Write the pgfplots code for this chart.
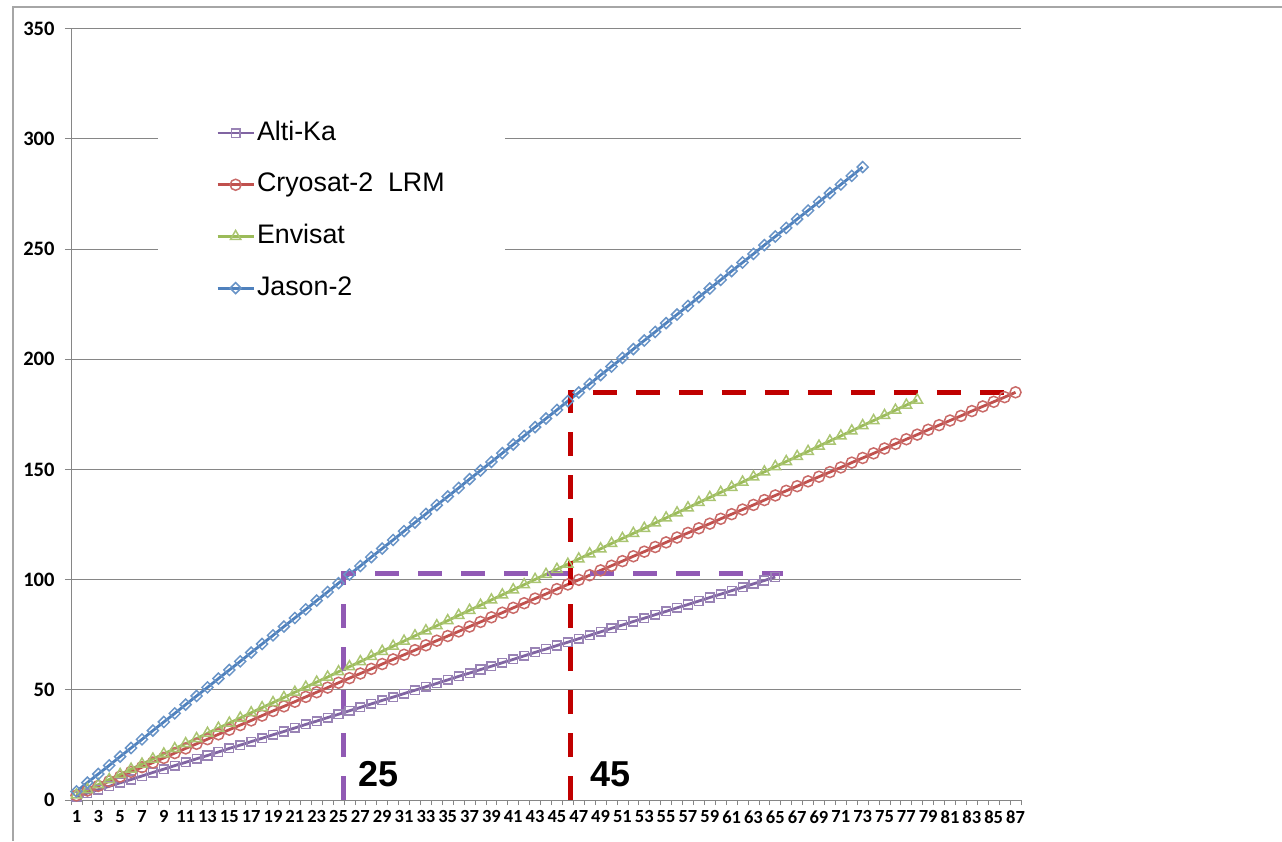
\documentclass[border=0pt]{standalone}
\usepackage{pgfplots}
\pgfplotsset{compat=1.18}
\usepackage{fontspec}
\setmainfont{Liberation Sans}
\newfontfamily\calibri{Carlito}
\definecolor{cpurple}{RGB}{128,100,162}
\definecolor{cred}{RGB}{192,80,77}
\definecolor{cgreen}{RGB}{155,187,89}
\definecolor{cblue}{RGB}{79,129,189}
\definecolor{dpurple}{RGB}{145,90,180}
\definecolor{dred}{RGB}{192,0,0}
\definecolor{gridgray}{RGB}{134,134,134}
\begin{document}
\begin{tikzpicture}[x=1pt,y=1pt]
\useasboundingbox (0,0) rectangle (1282,841);
\draw[gray!70, line width=1.5pt] (13,0) -- (13,834) -- (1282,834);
\begin{axis}[
  at={(71pt,41pt)}, anchor=south west,
  scale only axis, width=950pt, height=771.3pt,
  xmin=0.5, xmax=87.5, ymin=0, ymax=350,
  clip=false,
  xtick={1,3,...,87}, ytick={0,50,...,350},
  minor xtick={0.5,1.5,...,87.5},
  major x tick style={draw=none},
  minor tick length=5pt, major tick length=6pt,
  tick align=outside,
  axis lines*=left,
  axis line style={gridgray, line width=0.8pt},
  tick style={gridgray, line width=0.8pt},
  ymajorgrids, grid style={gridgray, line width=0.8pt},
  /pgf/number format/assume math mode=true,
  xticklabel style={font=\calibri\bfseries\fontsize{18.5}{18.5}\selectfont, yshift=-1pt},
  yticklabel style={font=\calibri\bfseries\fontsize{20.5}{20.5}\selectfont, xshift=-7pt},
  legend cell align=left,
  legend style={at={(0.1495,0.887)}, anchor=north west, draw=none, fill=none,
    font=\fontsize{26.8}{30}\selectfont, row sep=21.7pt,
    nodes={text height=20pt, text depth=6pt}},
  legend image code/.code={\draw[mark repeat=2,mark phase=2,#1] plot coordinates {(0pt,0pt) (18pt,0pt) (36pt,0pt)};},
]
\fill[white] (axis cs:8.47,222) rectangle (axis cs:40.24,317.6);

\addplot[cpurple, line width=2.8pt, mark=square, mark size=4.3pt, mark options={solid, line width=1.5pt, draw=cpurple!80!white}] coordinates {
(1,1.6)(2,3.1)(3,4.7)(4,6.2)(5,7.8)(6,9.3)(7,10.9)(8,12.5)(9,14.0)(10,15.6)
(11,17.1)(12,18.7)(13,20.2)(14,21.8)(15,23.4)(16,24.9)(17,26.5)(18,28.0)(19,29.6)(20,31.1)
(21,32.7)(22,34.3)(23,35.8)(24,37.4)(25,38.9)(26,40.5)(27,42.0)(28,43.6)(29,45.2)(30,46.7)
(31,48.3)(32,49.8)(33,51.4)(34,52.9)(35,54.5)(36,56.1)(37,57.6)(38,59.2)(39,60.7)(40,62.3)
(41,63.8)(42,65.4)(43,67.0)(44,68.5)(45,70.1)(46,71.6)(47,73.2)(48,74.7)(49,76.3)(50,77.9)
(51,79.4)(52,81.0)(53,82.5)(54,84.1)(55,85.6)(56,87.2)(57,88.7)(58,90.3)(59,91.9)(60,93.4)
(61,95.0)(62,96.5)(63,98.1)(64,99.6)(65,101.2)};
\addlegendentry{Alti-Ka}

\addplot[cred, line width=2.8pt, mark=o, mark size=5.5pt, mark options={solid, line width=1.5pt, draw=cred!85!white}] coordinates {
(1,2.1)(2,4.3)(3,6.4)(4,8.5)(5,10.6)(6,12.8)(7,14.9)(8,17.0)(9,19.1)(10,21.3)
(11,23.4)(12,25.5)(13,27.6)(14,29.8)(15,31.9)(16,34.0)(17,36.1)(18,38.3)(19,40.4)(20,42.5)
(21,44.6)(22,46.8)(23,48.9)(24,51.0)(25,53.2)(26,55.3)(27,57.4)(28,59.5)(29,61.7)(30,63.8)
(31,65.9)(32,68.0)(33,70.2)(34,72.3)(35,74.4)(36,76.5)(37,78.7)(38,80.8)(39,82.9)(40,85.0)
(41,87.2)(42,89.3)(43,91.4)(44,93.5)(45,95.7)(46,97.8)(47,99.9)(48,102.0)(49,104.2)(50,106.3)
(51,108.4)(52,110.6)(53,112.7)(54,114.8)(55,116.9)(56,119.1)(57,121.2)(58,123.3)(59,125.4)(60,127.6)
(61,129.7)(62,131.8)(63,133.9)(64,136.1)(65,138.2)(66,140.3)(67,142.4)(68,144.6)(69,146.7)(70,148.8)
(71,150.9)(72,153.1)(73,155.2)(74,157.3)(75,159.5)(76,161.6)(77,163.7)(78,165.8)(79,168.0)(80,170.1)
(81,172.2)(82,174.3)(83,176.5)(84,178.6)(85,180.7)(86,182.8)(87,185.0)};
\addlegendentry{Cryosat-2\ \ LRM}

\addplot[cgreen, line width=2.8pt, mark=triangle, mark size=6pt, mark options={solid, line width=1.5pt, draw=cgreen!85!white}] coordinates {
(1,2.3)(2,4.7)(3,7.0)(4,9.3)(5,11.6)(6,14.0)(7,16.3)(8,18.6)(9,20.9)(10,23.3)
(11,25.6)(12,27.9)(13,30.3)(14,32.6)(15,34.9)(16,37.2)(17,39.6)(18,41.9)(19,44.2)(20,46.5)
(21,48.9)(22,51.2)(23,53.5)(24,55.8)(25,58.2)(26,60.5)(27,62.8)(28,65.2)(29,67.5)(30,69.8)
(31,72.1)(32,74.5)(33,76.8)(34,79.1)(35,81.4)(36,83.8)(37,86.1)(38,88.4)(39,90.8)(40,93.1)
(41,95.4)(42,97.7)(43,100.1)(44,102.4)(45,104.7)(46,107.0)(47,109.4)(48,111.7)(49,114.0)(50,116.4)
(51,118.7)(52,121.0)(53,123.3)(54,125.7)(55,128.0)(56,130.3)(57,132.6)(58,135.0)(59,137.3)(60,139.6)
(61,141.9)(62,144.3)(63,146.6)(64,148.9)(65,151.3)(66,153.6)(67,155.9)(68,158.2)(69,160.6)(70,162.9)
(71,165.2)(72,167.5)(73,169.9)(74,172.2)(75,174.5)(76,176.9)(77,179.2)(78,181.5)};
\addlegendentry{Envisat}

\addplot[cblue, line width=2.8pt, mark=square, mark size=3.9pt, mark options={solid, rotate=45, line width=1.5pt, draw=cblue!85!white}] coordinates {
(1,3.9)(2,7.9)(3,11.8)(4,15.7)(5,19.7)(6,23.6)(7,27.5)(8,31.5)(9,35.4)(10,39.3)
(11,43.3)(12,47.2)(13,51.1)(14,55.1)(15,59.0)(16,62.9)(17,66.9)(18,70.8)(19,74.7)(20,78.7)
(21,82.6)(22,86.5)(23,90.5)(24,94.4)(25,98.4)(26,102.3)(27,106.2)(28,110.2)(29,114.1)(30,118.0)
(31,122.0)(32,125.9)(33,129.8)(34,133.8)(35,137.7)(36,141.6)(37,145.6)(38,149.5)(39,153.4)(40,157.4)
(41,161.3)(42,165.2)(43,169.2)(44,173.1)(45,177.0)(46,181.0)(47,184.9)(48,188.8)(49,192.8)(50,196.7)
(51,200.6)(52,204.6)(53,208.5)(54,212.4)(55,216.4)(56,220.3)(57,224.2)(58,228.2)(59,232.1)(60,236.0)
(61,240.0)(62,243.9)(63,247.8)(64,251.8)(65,255.7)(66,259.6)(67,263.6)(68,267.5)(69,271.4)(70,275.4)
(71,279.3)(72,283.2)(73,287.2)};
\addlegendentry{Jason-2}

\addplot[forget plot, dpurple, line width=5pt, dash pattern=on 24pt off 19pt] coordinates {(25.5,0) (25.5,102.9) (65.7,102.9)};
\addplot[forget plot, dred, line width=5pt, dash pattern=on 24pt off 19pt] coordinates {(46.25,0) (46.25,185) (87,185)};

\node[font=\bfseries\fontsize{36}{36}\selectfont] at (axis cs:28.7,11.8) {25};
\node[font=\bfseries\fontsize{36}{36}\selectfont] at (axis cs:49.95,11.8) {45};
\end{axis}
\end{tikzpicture}
\end{document}
